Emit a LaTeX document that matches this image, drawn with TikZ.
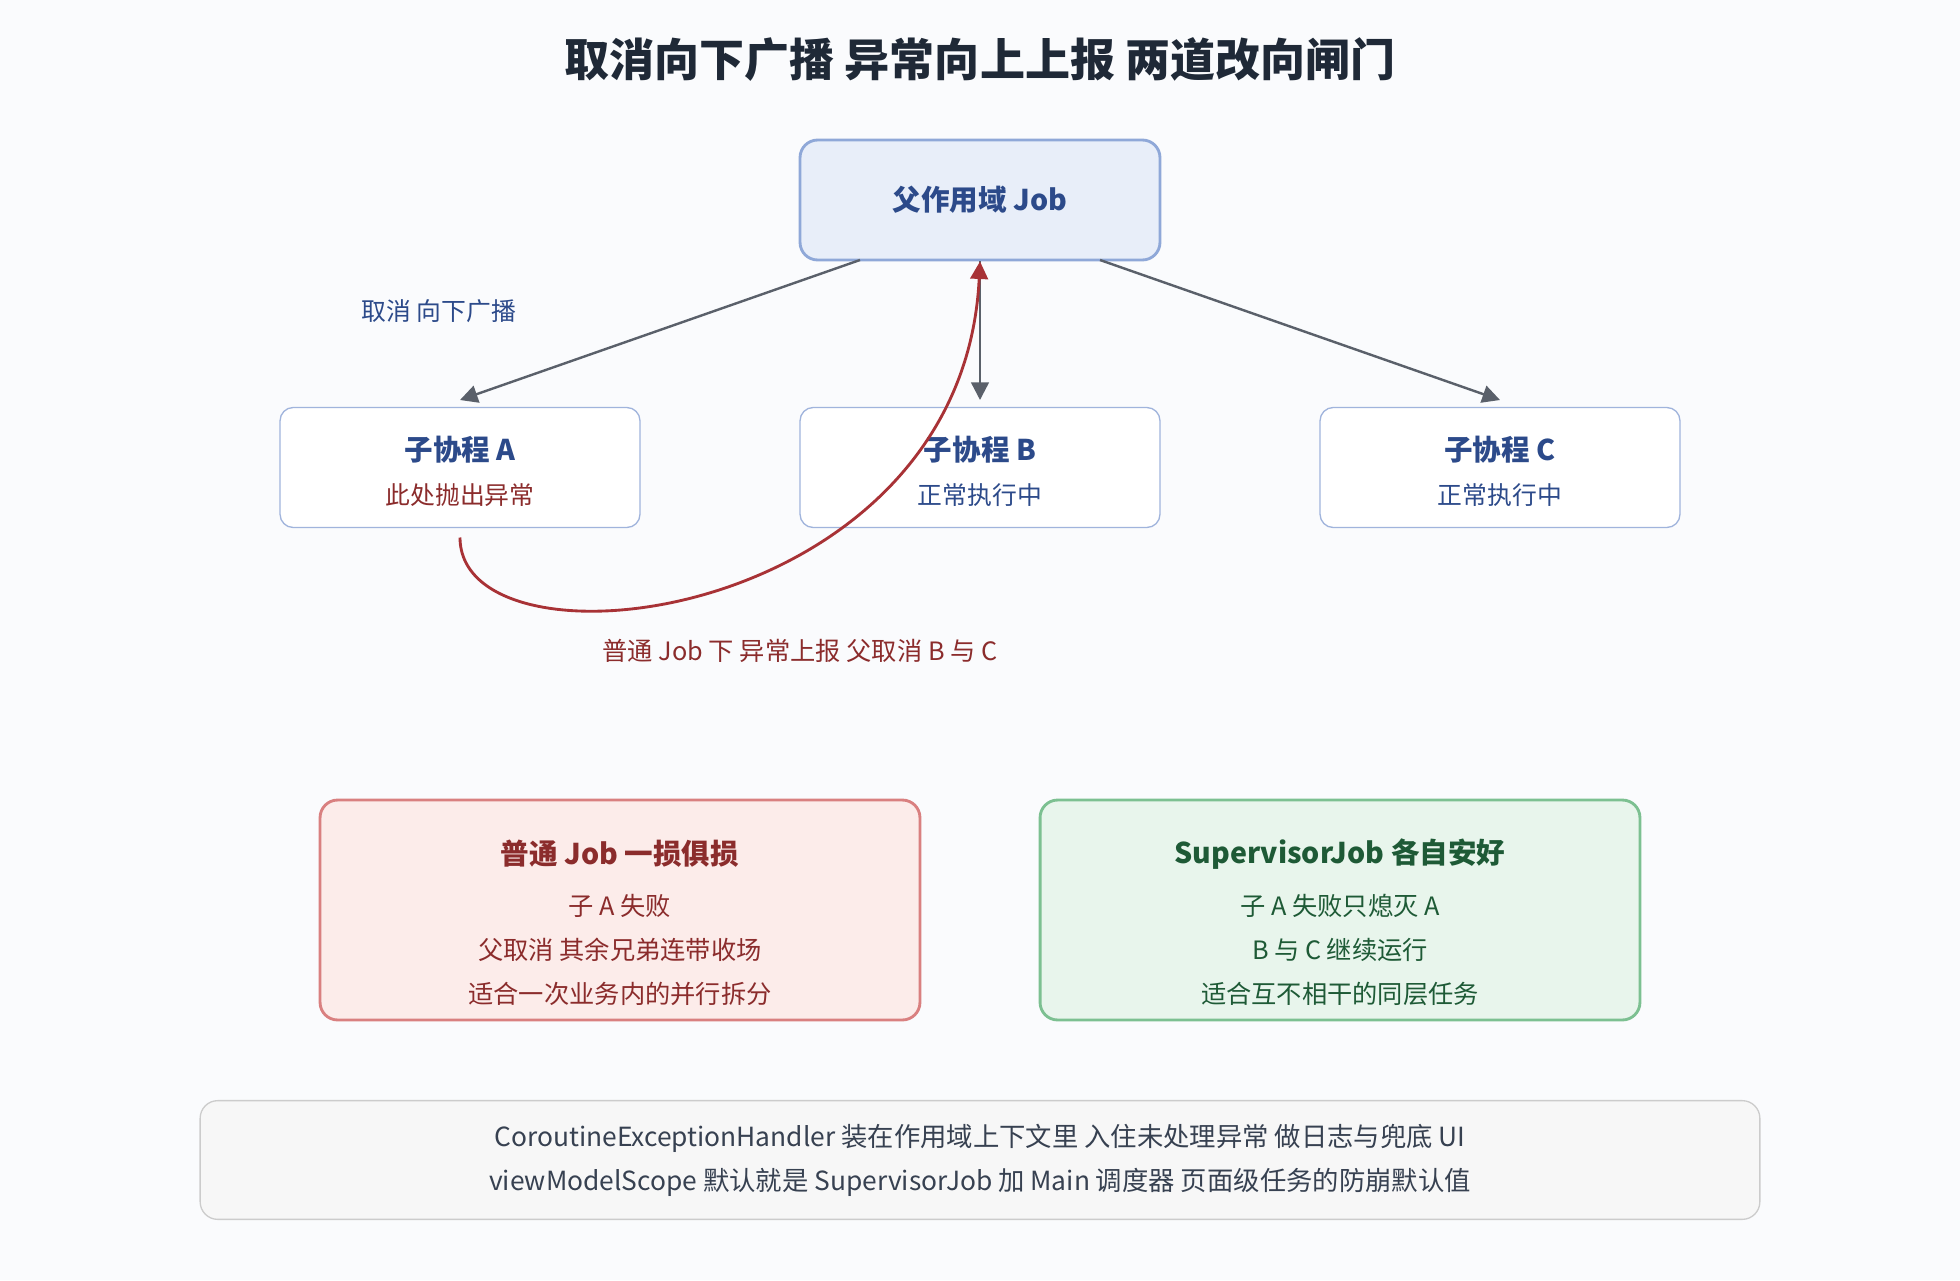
\documentclass[tikz,border=0pt]{standalone}
\usepackage{fontspec}
\setmainfont{Noto Sans CJK SC}
\usetikzlibrary{arrows.meta}
\definecolor{bg}{HTML}{FAFBFD}
\definecolor{ink}{HTML}{1F2937}
\definecolor{blu}{HTML}{2C4A8A}
\definecolor{bluefill}{HTML}{E8EEF9}
\definecolor{blueline}{HTML}{8FA8D8}
\definecolor{kidline}{HTML}{A0B4DC}
\definecolor{redt}{HTML}{8B2C2C}
\definecolor{redfill}{HTML}{FCECEA}
\definecolor{redline}{HTML}{D98080}
\definecolor{grnt}{HTML}{1E5A36}
\definecolor{grnfill}{HTML}{E8F5EC}
\definecolor{grnline}{HTML}{7CC091}
\definecolor{arr}{HTML}{5A606A}
\definecolor{curve}{HTML}{A83236}
\definecolor{note}{HTML}{374151}
\begin{document}
\begin{tikzpicture}[x=0.02cm, y=-0.02cm,
    kid/.style={draw=kidline, fill=white, rounded corners=6pt, minimum width=5.76cm, minimum height=1.92cm, line width=0.6pt},
    big/.style={rounded corners=8pt, minimum width=9.6cm, minimum height=3.52cm, line width=1.3pt},
    link/.style={draw=arr, line width=1.1pt, -{Triangle[length=8pt,width=8pt]}}]
    \fill[bg] (0,0) rectangle (1568,1024);
    \node (title) at (784,48) {\fontsize{20.5}{24}\selectfont\bfseries\color{ink}取消向下广播 异常向上上报 两道改向闸门};
    % parent scope
    \node[draw=blueline, fill=bluefill, rounded corners=8pt, minimum width=5.76cm, minimum height=1.92cm, line width=1.3pt] (parent) at (784,160) {\fontsize{13}{15}\selectfont\bfseries\color{blu}父作用域 Job};
    % children
    \node[kid] (ka) at (368,374) {};
    \node[kid] (kb) at (784,374) {};
    \node[kid] (kc) at (1200,374) {};
    \node (kat) at (368,360) {\fontsize{13}{15}\selectfont\bfseries\color{blu}子协程 A};
    \node (kas) at (368,396) {\fontsize{11.3}{13}\selectfont\color{redt}此处抛出异常};
    \node (kbt) at (784,360) {\fontsize{13}{15}\selectfont\bfseries\color{blu}子协程 B};
    \node (kbs) at (784,396) {\fontsize{11.3}{13}\selectfont\color{blu}正常执行中};
    \node (kct) at (1200,360) {\fontsize{13}{15}\selectfont\bfseries\color{blu}子协程 C};
    \node (kcs) at (1200,396) {\fontsize{11.3}{13}\selectfont\color{blu}正常执行中};
    \coordinate (pa) at (688,208);
    \coordinate (pc) at (880,208);
    \coordinate (ta) at (368,320);
    \coordinate (tb) at (784,320);
    \coordinate (tc) at (1200,320);
    \draw[link] (pa) -- (ta);
    \draw[link] (parent.south) -- (tb);
    \draw[link] (pc) -- (tc);
    \node (down) at (351,249) {\fontsize{11.3}{13}\selectfont\color{blu}取消 向下广播};
    % exception goes up
    \coordinate (fa) at (368,430);
    \draw[curve, line width=1.3pt, -{Triangle[length=8pt,width=8pt]}] (fa) .. controls (368,545) and (770,500) .. (parent.south);
    \node (up) at (640,521) {\fontsize{11.5}{13}\selectfont\color{redt}普通 Job 下 异常上报 父取消 B 与 C};
    % two cases
    \node[big, draw=redline, fill=redfill] (plain) at (496,728) {};
    \node (plt) at (496,683) {\fontsize{13}{15}\selectfont\bfseries\color{redt}普通 Job 一损俱损};
    \node[align=center, font=\fontsize{11.5}{20}\selectfont, text=redt] (pll) at (496,760) {子 A 失败\\父取消 其余兄弟连带收场\\适合一次业务内的并行拆分};
    \node[big, draw=grnline, fill=grnfill] (sup) at (1072,728) {};
    \node (spt) at (1072,683) {\fontsize{13}{15}\selectfont\bfseries\color{grnt}SupervisorJob 各自安好};
    \node[align=center, font=\fontsize{11.5}{20}\selectfont, text=grnt] (spl) at (1072,760) {子 A 失败只熄灭 A\\B 与 C 继续运行\\适合互不相干的同层任务};
    % note
    \node[draw=black!20, fill=black!3, rounded corners=8pt, minimum width=24.96cm, minimum height=1.9cm, line width=0.6pt, align=center, font=\fontsize{12}{20}\selectfont, text=note] (hint) at (784,928) {CoroutineExceptionHandler 装在作用域上下文里 入住未处理异常 做日志与兜底 UI\\viewModelScope 默认就是 SupervisorJob 加 Main 调度器 页面级任务的防崩默认值};
\end{tikzpicture}
\end{document}
